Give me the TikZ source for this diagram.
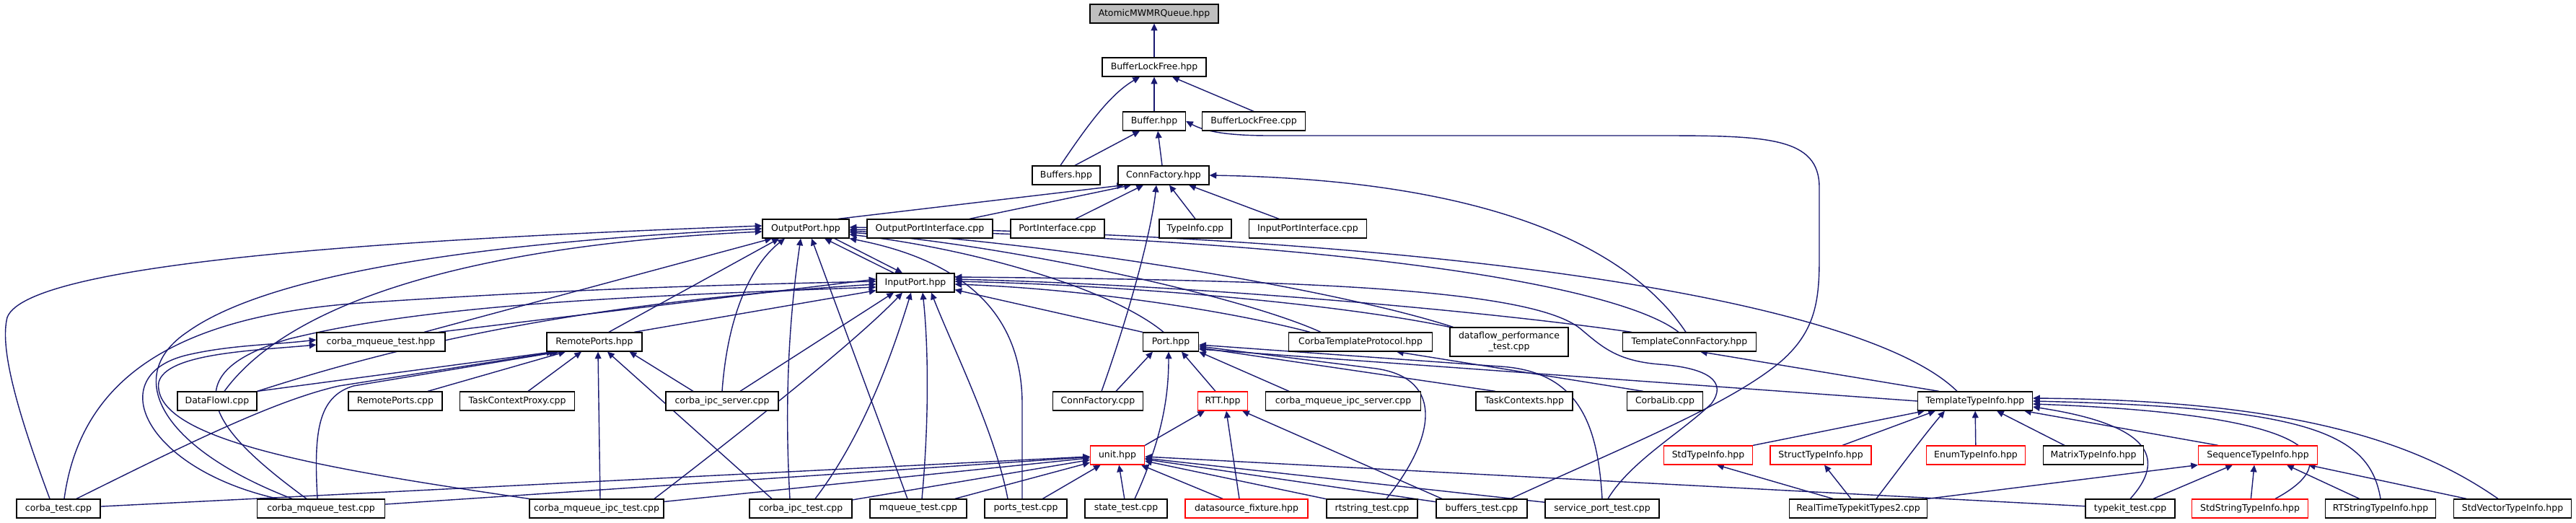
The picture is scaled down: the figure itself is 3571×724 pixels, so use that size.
\documentclass[tikz,border=0pt]{standalone}
\usepackage{fontspec}
\newfontfamily\filefont{DejaVu Sans}
\usepackage{tikz}
\usetikzlibrary{arrows.meta,calc,backgrounds}
\definecolor{edgeblue}{HTML}{191970}
\newcommand\nodefont{\filefont\fontsize{7.1pt}{8.5pt}\selectfont}
\tikzset{
  file/.style={draw=black, fill=white, line width=0.7pt, minimum height=0.52cm, inner sep=0pt, font=\nodefont},
  root/.style={file, fill=black!25},
  trunc/.style={file, draw=red},
  dep/.style={draw=edgeblue, line width=0.8pt, -{Triangle[length=5.5pt,width=5pt]}}
}
\begin{document}
\begin{tikzpicture}[x=0.02cm, y=-0.02cm]
  \useasboundingbox (0,0) rectangle (3571,724);

  \node[root, minimum width=3.56cm] (atomicq) at (1600,19) {AtomicMWMRQueue.hpp};
  \node[file, minimum width=2.88cm] (blfhpp) at (1600,93) {BufferLockFree.hpp};
  \node[file, minimum width=1.74cm] (buffer) at (1600,168) {Buffer.hpp};
  \node[file, minimum width=2.86cm] (blfcpp) at (1738,168) {BufferLockFree.cpp};
  \node[file, minimum width=1.88cm] (buffers) at (1478,243) {Buffers.hpp};
  \node[file, minimum width=2.52cm] (connfh) at (1613,243) {ConnFactory.hpp};

  \node[file, minimum width=2.40cm] (outport) at (1117,317) {OutputPort.hpp};
  \node[file, minimum width=3.48cm] (opicpp) at (1289,317) {OutputPortInterface.cpp};
  \node[file, minimum width=2.60cm] (picpp) at (1466,317) {PortInterface.cpp};
  \node[file, minimum width=2.00cm] (ticpp) at (1657,317) {TypeInfo.cpp};
  \node[file, minimum width=3.26cm] (ipicpp) at (1813,317) {InputPortInterface.cpp};
  \node[file, minimum width=2.16cm] (inport) at (1269,392) {InputPort.hpp};

  \node[file, minimum width=3.56cm] (cmqhpp) at (528,474) {corba\_mqueue\_test.hpp};
  \node[file, minimum width=2.64cm] (rports) at (824,474) {RemotePorts.hpp};
  \node[file, minimum width=1.54cm] (port) at (1623,474) {Port.hpp};
  \node[file, minimum width=3.98cm] (ctp) at (1886,474) {CorbaTemplateProtocol.hpp};
  \node[file, minimum width=3.28cm, minimum height=0.80cm, align=center] (dfperf) at (2092,474) {dataflow\_performance\\\_test.cpp};
  \node[file, minimum width=3.70cm] (tcf) at (2342,474) {TemplateConnFactory.hpp};

  \node[file, minimum width=2.20cm] (dataflowi) at (301,556) {DataFlowI.cpp};
  \node[file, minimum width=2.60cm] (rpcpp) at (548,556) {RemotePorts.cpp};
  \node[file, minimum width=3.18cm] (tcproxy) at (717,556) {TaskContextProxy.cpp};
  \node[file, minimum width=3.12cm] (cipcserver) at (1001,556) {corba\_ipc\_server.cpp};
  \node[file, minimum width=2.50cm] (connfcpp) at (1522,556) {ConnFactory.cpp};
  \node[trunc, minimum width=1.38cm] (rtt) at (1695,556) {RTT.hpp};
  \node[file, minimum width=4.30cm] (cmqipcserver) at (1862,556) {corba\_mqueue\_ipc\_server.cpp};
  \node[file, minimum width=2.68cm] (taskctx) at (2113,556) {TaskContexts.hpp};
  \node[file, minimum width=2.10cm] (corbalib) at (2308,556) {CorbaLib.cpp};
  \node[file, minimum width=3.18cm] (tti) at (2738,556) {TemplateTypeInfo.hpp};

  \node[trunc, minimum width=1.50cm] (unit) at (1549,631) {unit.hpp};
  \node[trunc, minimum width=2.46cm] (stdti) at (2368,631) {StdTypeInfo.hpp};
  \node[trunc, minimum width=2.80cm] (structti) at (2524,631) {StructTypeInfo.hpp};
  \node[trunc, minimum width=2.74cm] (enumti) at (2739,631) {EnumTypeInfo.hpp};
  \node[file, minimum width=2.78cm] (matrixti) at (2902,631) {MatrixTypeInfo.hpp};
  \node[trunc, minimum width=3.30cm] (seqti) at (3130,631) {SequenceTypeInfo.hpp};

  \node[file, minimum width=2.32cm] (corbatest) at (81,705) {corba\_test.cpp};
  \node[file, minimum width=3.54cm] (cmqtest) at (445,705) {corba\_mqueue\_test.cpp};
  \node[file, minimum width=3.72cm] (cmqipctest) at (827,705) {corba\_mqueue\_ipc\_test.cpp};
  \node[file, minimum width=2.84cm] (cipctest) at (1110,705) {corba\_ipc\_test.cpp};
  \node[file, minimum width=2.68cm] (mqtest) at (1273,705) {mqueue\_test.cpp};
  \node[file, minimum width=2.28cm] (portstest) at (1422,705) {ports\_test.cpp};
  \node[file, minimum width=2.28cm] (statetest) at (1561,705) {state\_test.cpp};
  \node[trunc, minimum width=3.40cm] (dsfix) at (1728,705) {datasource\_fixture.hpp};
  \node[file, minimum width=2.52cm] (rtstrtest) at (1902,705) {rtstring\_test.cpp};
  \node[file, minimum width=2.52cm] (buftest) at (2054,705) {buffers\_test.cpp};
  \node[file, minimum width=3.16cm] (sptest) at (2221,705) {service\_port\_test.cpp};
  \node[file, minimum width=3.82cm] (rttk2) at (2576,705) {RealTimeTypekitTypes2.cpp};
  \node[file, minimum width=2.48cm] (tktest) at (2953,705) {typekit\_test.cpp};
  \node[trunc, minimum width=3.22cm] (stdstrti) at (3119,705) {StdStringTypeInfo.hpp};
  \node[file, minimum width=3.06cm] (rtstrti) at (3300,705) {RTStringTypeInfo.hpp};
  \node[file, minimum width=3.26cm] (stdvecti) at (3483,705) {StdVectorTypeInfo.hpp};

  \begin{scope}[on background layer]
  \fill[white] (0,0) rectangle (3571,724);
  % buffers
  \draw[dep] (blfhpp) -- (atomicq);
  \draw[dep] (buffer) -- (blfhpp);
  \draw[dep] (blfcpp.north) -- ($(blfhpp.south)+(25,0)$);
  \draw[dep] ($(buffers.north)+(-8,0)$) .. controls (1510,170) and (1540,130) .. ($(blfhpp.south)+(-20,0)$);
  \draw[dep] ($(buffers.north)+(12,0)$) -- ($(buffer.south)+(-20,0)$);
  \draw[dep] ($(connfh.north)+(-2,0)$) -- ($(buffer.south)+(5,0)$);
  \draw[dep] ($(buftest.north)+(40,0)$) .. controls (2250,620) and (2400,560) .. (2470,500) .. controls (2515,460) and (2522,420) .. (2522,360) -- (2522,260)
    .. controls (2522,190) and (2450,188) .. (2300,188) -- (1760,188) .. controls (1700,188) and (1670,182) .. (buffer.east);
  % connfactory
  \draw[dep] ($(outport.north)+(45,0)$) -- ($(connfh.south)+(-55,0)$);
  \draw[dep] ($(opicpp.north)+(55,0)$) -- ($(connfh.south)+(-45,0)$);
  \draw[dep] ($(picpp.north)+(25,0)$) -- ($(connfh.south)+(-28,0)$);
  \draw[dep] ($(connfcpp.north)+(5,0)$) .. controls (1560,450) and (1595,330) .. ($(connfh.south)+(-10,0)$);
  \draw[dep] (ticpp.north) -- ($(connfh.south)+(8,0)$);
  \draw[dep] ($(ipicpp.north)+(-40,0)$) -- ($(connfh.south)+(35,0)$);
  \draw[dep] ($(tcf.north)+(-5,0)$) .. controls (2270,360) and (2100,250) .. (connfh.east);
  % output and input port
  \draw[dep] ($(inport.north)+(-30,0)$) -- ($(outport.south)+(26,0)$);
  \draw[dep] ($(outport.south)+(40,0)$) -- ($(inport.north)+(-18,0)$);
  \draw[dep] ($(corbatest.north)+(-12,0)$) .. controls (20,560) and (0,480) .. (10,440) .. controls (40,360) and (600,330) .. ($(outport.west)+(0,-4)$);
  \draw[dep] ($(cmqtest.north)+(-40,0)$) .. controls (220,620) and (170,520) .. (260,460) .. controls (400,360) and (800,330) .. (outport.west);
  \draw[dep] ($(dataflowi.north)+(10,0)$) .. controls (400,420) and (650,340) .. ($(outport.west)+(0,4)$);
  \draw[dep] ($(cmqhpp.north)+(60,0)$) -- ($(outport.south)+(-47,0)$);
  \draw[dep] ($(rports.north)+(20,0)$) -- ($(outport.south)+(-37,0)$);
  \draw[dep] (cipcserver.north) .. controls (1010,420) and (1050,360) .. ($(outport.south)+(-29,0)$);
  \draw[dep] ($(cipctest.north)+(-15,0)$) .. controls (1085,520) and (1100,400) .. ($(outport.south)+(-7,0)$);
  \draw[dep] ($(mqtest.north)+(-15,0)$) -- ($(outport.south)+(8,0)$);
  \draw[dep] ($(portstest.north)+(-5,0)$) -- (1417,560) .. controls (1417,430) and (1330,360) .. (outport.south east);
  \draw[dep] ($(port.north)+(-10,0)$) .. controls (1540,400) and (1350,345) .. ($(outport.east)+(0,8)$);
  \draw[dep] ($(ctp.north)+(-55,0)$) .. controls (1720,410) and (1400,340) .. ($(outport.east)+(0,5)$);
  \draw[dep] ($(dfperf.north west)+(5,0)$) .. controls (1850,400) and (1450,335) .. ($(outport.east)+(0,3)$);
  \draw[dep] ($(tcf.north)+(-15,0)$) .. controls (2250,400) and (1900,333) .. ($(outport.east)+(0,1)$);
  \draw[dep] ($(tti.north)+(-25,0)$) .. controls (2600,430) and (2100,330) .. ($(outport.east)+(0,-2)$);
  \draw[dep] ($(cmqhpp.north)+(80,0)$) -- ($(inport.west)+(0,-5)$);
  \draw[dep] ($(corbatest.north)+(8,0)$) .. controls (110,540) and (220,440) .. (500,420) .. controls (800,400) and (1000,395) .. ($(inport.west)+(0,-2)$);
  \draw[dep] (dataflowi.north east) .. controls (550,480) and (800,420) .. ($(inport.west)+(0,2)$);
  \draw[dep] ($(cmqtest.north)+(-20,0)$) .. controls (300,600) and (230,520) .. (400,470) .. controls (600,420) and (900,410) .. ($(inport.west)+(0,6)$);
  \draw[dep] ($(rports.north)+(55,0)$) -- ($(inport.south west)+(0,-3)$);
  \draw[dep] ($(cipcserver.north)+(25,0)$) -- ($(inport.south)+(-30,0)$);
  \draw[dep] ($(cmqipctest.north)+(80,0)$) .. controls (1000,620) and (1180,480) .. ($(inport.south)+(-18,0)$);
  \draw[dep] ($(cipctest.north)+(20,0)$) .. controls (1200,600) and (1240,480) .. ($(inport.south)+(-6,0)$);
  \draw[dep] ($(mqtest.north)+(5,0)$) .. controls (1290,560) and (1285,460) .. ($(inport.south)+(10,0)$);
  \draw[dep] ($(portstest.north)+(-25,0)$) .. controls (1380,600) and (1320,480) .. ($(inport.south)+(22,0)$);
  \draw[dep] (port.north west) -- ($(inport.south east)+(0,-4)$);
  \draw[dep] ($(ctp.north)+(-70,0)$) .. controls (1700,430) and (1500,400) .. ($(inport.east)+(0,2)$);
  \draw[dep] (dfperf.north west) .. controls (1850,420) and (1550,395) .. ($(inport.east)+(0,-2)$);
  \draw[dep] ($(tcf.north)+(-80,0)$) .. controls (2050,430) and (1650,395) .. ($(inport.east)+(0,-5)$);
  \draw[dep] ($(sptest.north)+(8,0)$) .. controls (2260,640) and (2330,600) .. (2372,560) .. controls (2395,530) and (2370,510) .. (2300,505)
    .. controls (2240,500) and (2220,480) .. (2190,455) .. controls (2120,400) and (1800,388) .. ($(inport.east)+(0,-8)$);
  % remote ports
  \draw[dep] (dataflowi.north east) -- ($(rports.south west)+(10,0)$);
  \draw[dep] ($(corbatest.north)+(25,0)$) .. controls (250,620) and (380,555) .. (470,535) -- ($(rports.south west)+(14,0)$);
  \draw[dep] ($(cmqtest.north)+(-5,0)$) .. controls (435,600) and (440,550) .. (490,535) -- ($(rports.south west)+(18,0)$);
  \draw[dep] ($(rpcpp.north)+(45,0)$) -- ($(rports.south)+(-40,0)$);
  \draw[dep] ($(tcproxy.north)+(15,0)$) -- ($(rports.south)+(-18,0)$);
  \draw[dep] ($(cmqipctest.north)+(5,0)$) -- ($(rports.south)+(5,0)$);
  \draw[dep] ($(cipctest.north)+(-40,0)$) -- ($(rports.south)+(18,0)$);
  \draw[dep] ($(cipcserver.north)+(-40,0)$) -- ($(rports.south east)+(-18,0)$);
  \draw[dep] ($(cmqtest.north)+(-60,0)$) .. controls (200,650) and (140,520) .. (260,492) .. controls (320,478) and (380,478) .. ($(cmqhpp.west)+(0,-3)$);
  \draw[dep] (cmqipctest.north west) .. controls (450,650) and (210,610) .. (220,530) .. controls (230,490) and (350,486) .. ($(cmqhpp.west)+(0,4)$);
  % unit, rtt, port
  \foreach \src in {corbatest,cmqtest,cmqipctest,cipctest,mqtest,portstest,statetest,dsfix,rtstrtest,buftest,sptest,tktest}
    \draw[dep] (\src) -- (unit);
  \draw[dep] (unit.north east) -- ($(rtt.south)+(-25,0)$);
  \draw[dep] ($(dsfix.north)+(-10,0)$) -- ($(rtt.south)+(5,0)$);
  \draw[dep] ($(buftest.north)+(-55,0)$) -- ($(rtt.south east)+(-8,0)$);
  \draw[dep] ($(connfcpp.north)+(25,0)$) -- ($(port.south)+(-25,0)$);
  \draw[dep] ($(rtt.north)+(-10,0)$) -- ($(port.south)+(15,0)$);
  \draw[dep] ($(statetest.north)+(12,0)$) .. controls (1615,600) and (1620,540) .. ($(port.south)+(-3,0)$);
  \draw[dep] ($(cmqipcserver.north)+(-75,0)$) -- (port.south east);
  \draw[dep] ($(taskctx.north)+(-40,0)$) -- ($(port.east)+(0,8)$);
  \draw[dep] (tti.west) -- ($(port.east)+(0,10)$);
  \draw[dep] ($(rtstrtest.north)+(20,0)$) .. controls (1995,600) and (2000,520) .. (1900,510) -- ($(port.east)+(0,6)$);
  \draw[dep] (sptest.north) .. controls (2215,590) and (2190,515) .. (2080,508) -- ($(port.east)+(0,4)$);
  % typeinfo
  \draw[dep] ($(corbalib.north)+(-30,0)$) -- ($(ctp.south)+(50,0)$);
  \draw[dep] ($(tti.north)+(-50,0)$) -- ($(tcf.south)+(15,0)$);
  \draw[dep] (stdti.north east) -- ($(tti.south west)+(10,0)$);
  \draw[dep] ($(structti.north)+(30,0)$) -- ($(tti.south west)+(25,0)$);
  \draw[dep] ($(rttk2.north)+(25,0)$) .. controls (2640,640) and (2670,600) .. ($(tti.south west)+(38,0)$);
  \draw[dep] (enumti) -- (tti);
  \draw[dep] ($(matrixti.north)+(-40,0)$) -- ($(tti.south)+(30,0)$);
  \draw[dep] ($(seqti.north)+(-55,0)$) -- ($(tti.south east)+(-12,0)$);
  \draw[dep] (tktest.north) .. controls (3000,640) and (2990,590) .. ($(tti.east)+(0,8)$);
  \draw[dep] ($(stdstrti.north)+(35,0)$) .. controls (3250,640) and (3230,575) .. ($(tti.east)+(0,4)$);
  \draw[dep] (rtstrti.north) .. controls (3285,600) and (3200,565) .. (tti.east);
  \draw[dep] ($(stdvecti.north)+(-20,0)$) .. controls (3360,620) and (3200,555) .. ($(tti.east)+(0,-4)$);
  \draw[dep] (rttk2.north east) -- (seqti.south west);
  \foreach \src/\dx in {tktest/-35,stdstrti/-5,rtstrti/40,stdvecti/70}
    \draw[dep] (\src) -- ($(seqti.south)+(\dx,0)$);
  \draw[dep] ($(rttk2.north)+(-35,0)$) -- ($(stdti.south)+(12,0)$);
  \draw[dep] ($(rttk2.north)+(-10,0)$) -- ($(structti.south)+(5,0)$);
  \end{scope}
\end{tikzpicture}
\end{document}
